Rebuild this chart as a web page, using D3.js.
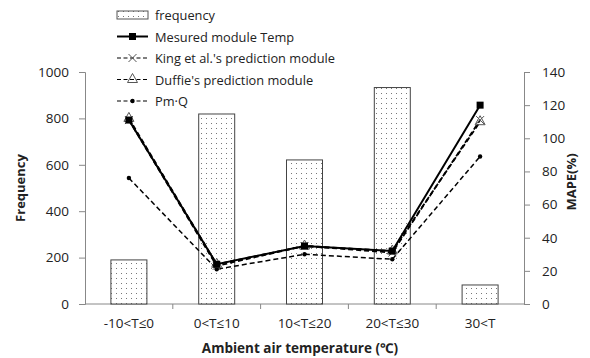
<!DOCTYPE html>
<html>
<head>
<meta charset="utf-8">
<script src="https://cdn.jsdelivr.net/npm/d3@7"></script>
<style>
body { margin: 0; background: #fff; }
text { font-family: "Open Sans", "Noto Sans", sans-serif; fill: #222; }
.axis path, .axis line { stroke: #888; }
.axis text { font-size: 13.5px; }
</style>
</head>
<body>
<div id="chart"></div>
<script>
const categories = ['-10<T\u22640', '0<T\u226410', '10<T\u226420', '20<T\u226430', '30<T'];
const frequency = [190, 819, 621, 933, 82];
const measured = [111, 24, 35, 32, 120];
const king = [111, 23, 35, 31, 111];
const duffie = [112, 24, 35, 32, 110];
const pmq = [76, 21, 30, 27, 89];
const leftTicks = [0, 200, 400, 600, 800, 1000];
const rightTicks = [0, 20, 40, 60, 80, 100, 120, 140];

const margin = {top: 72, right: 66, bottom: 54, left: 85};
const width = 590 - margin.left - margin.right,
    height = 358 - margin.top - margin.bottom;

const root = d3.select('#chart').append('svg')
    .attr('width', 590)
    .attr('height', 358);

const defs = root.append('defs');
const pat = defs.append('pattern')
    .attr('id', 'dots')
    .attr('patternUnits', 'userSpaceOnUse')
    .attr('width', 5)
    .attr('height', 5);
pat.append('rect').attr('width', 5).attr('height', 5).attr('fill', '#fff');
pat.append('rect').attr('x', 1).attr('y', 1).attr('width', 1).attr('height', 1).attr('fill', '#777');

const svg = root.append('g')
    .attr('transform', `translate(${margin.left}, ${margin.top})`);

const xScale = d3.scaleBand()
    .domain(categories)
    .range([0, width])
    .paddingInner(0.59)
    .paddingOuter(0.295);

const xPoint = d => xScale(d) + xScale.bandwidth() / 2;

const yLeft = d3.scaleLinear().domain([0, 1000]).range([height, 0]);
const yRight = d3.scaleLinear().domain([0, 140]).range([height, 0]);

// x axis with ticks between categories
const xAxisGroup = svg.append('g')
    .attr('class', 'axis x-axis')
    .attr('transform', `translate(0, ${height})`);
xAxisGroup.append('line').attr('x1', 0).attr('x2', width);
const step = xScale.step();
xAxisGroup.selectAll('.tk')
    .data(d3.range(1, categories.length))
    .enter().append('line')
    .attr('x1', i => i * step).attr('x2', i => i * step)
    .attr('y1', 0).attr('y2', 5);
xAxisGroup.selectAll('.lbl')
    .data(categories)
    .enter().append('text')
    .attr('x', d => xPoint(d))
    .attr('y', 24)
    .attr('text-anchor', 'middle')
    .text(d => d);

const yAxisGroup = svg.append('g')
    .attr('class', 'axis y-axis')
    .call(d3.axisLeft(yLeft).tickValues(leftTicks).tickFormat(d3.format('d'))
        .tickSizeOuter(0).tickSize(6).tickPadding(10));

const yAxisRight = svg.append('g')
    .attr('class', 'axis y-axis-right')
    .attr('transform', `translate(${width}, 0)`)
    .call(d3.axisRight(yRight).tickValues(rightTicks).tickFormat(d3.format('d'))
        .tickSizeOuter(0).tickSize(6).tickPadding(12));

svg.selectAll('.domain').attr('stroke', '#888');

// bars
svg.selectAll('rect.bar')
    .data(frequency)
    .enter()
    .append('rect')
    .attr('class', 'bar')
    .attr('x', (d, i) => xScale(categories[i]))
    .attr('y', d => yLeft(d))
    .attr('width', xScale.bandwidth())
    .attr('height', d => height - yLeft(d))
    .attr('fill', 'url(#dots)')
    .attr('stroke', '#444')
    .attr('stroke-width', 1);

const series = [
    {name: 'Mesured module Temp', values: measured, dash: null, marker: 'square', width: 2},
    {name: "King et al.'s prediction module", values: king, dash: '5,3', marker: 'cross', width: 1.8},
    {name: "Duffie's prediction module", values: duffie, dash: '5,3', marker: 'triangle', width: 1.8},
    {name: 'Pm\u00b7Q', values: pmq, dash: '5,3', marker: 'dot', width: 1.5}
];

const line = d3.line()
    .x((d, i) => xPoint(categories[i]))
    .y(d => yRight(d));

function drawMarker(g, type, x, y) {
    if (type === 'square') {
        g.append('rect').attr('x', x - 3.5).attr('y', y - 3.5).attr('width', 7).attr('height', 7).attr('fill', '#000');
    } else if (type === 'cross') {
        g.append('path').attr('d', `M${x-4},${y-4}L${x+4},${y+4}M${x-4},${y+4}L${x+4},${y-4}`)
            .attr('stroke', '#555').attr('stroke-width', 1).attr('fill', 'none');
    } else if (type === 'triangle') {
        g.append('path').attr('d', `M${x},${y-6}L${x+5},${y+3}L${x-5},${y+3}Z`)
            .attr('stroke', '#555').attr('stroke-width', 1).attr('fill', 'none');
    } else {
        g.append('circle').attr('cx', x).attr('cy', y).attr('r', 2.2).attr('fill', '#000');
    }
}

series.slice().reverse().forEach(s => {
    svg.append('path')
        .datum(s.values)
        .attr('fill', 'none')
        .attr('stroke', '#000')
        .attr('stroke-width', s.width)
        .attr('stroke-dasharray', s.dash)
        .attr('d', line);
    const mg = svg.append('g');
    s.values.forEach((v, i) => drawMarker(mg, s.marker, xPoint(categories[i]), yRight(v)));
});

// legend
const legend = root.append('g').attr('transform', 'translate(117, 15)');
const rowH = 21.5;
legend.append('rect')
    .attr('x', 0).attr('y', -4).attr('width', 31).attr('height', 8)
    .attr('fill', 'url(#dots)').attr('stroke', '#555').attr('stroke-width', 1);
legend.append('text').attr('x', 38).attr('y', 5).style('font-size', '12.8px').text('frequency');
series.forEach((s, i) => {
    const y = (i + 1) * rowH;
    legend.append('line')
        .attr('x1', 0).attr('x2', 31).attr('y1', y).attr('y2', y)
        .attr('stroke', '#000').attr('stroke-width', s.dash ? 1.2 : 2)
        .attr('stroke-dasharray', s.dash ? '4,2.5' : null);
    drawMarker(legend, s.marker, 15.5, y);
    legend.append('text').attr('x', 38).attr('y', y + 5).style('font-size', '12.8px').text(s.name);
});

// axis titles
root.append('text')
    .attr('transform', 'translate(25, 188) rotate(-90)')
    .attr('text-anchor', 'middle')
    .style('font-size', '13px').style('font-weight', 'bold')
    .text('Frequency');
root.append('text')
    .attr('transform', 'translate(576, 182) rotate(-90)')
    .attr('text-anchor', 'middle')
    .style('font-size', '13px').style('font-weight', 'bold')
    .text('MAPE(%)');
root.append('text')
    .attr('x', 300).attr('y', 353)
    .attr('text-anchor', 'middle')
    .style('font-size', '13.5px').style('font-weight', 'bold')
    .text('Ambient air temperature (\u2103)');
</script>
</body>
</html>
